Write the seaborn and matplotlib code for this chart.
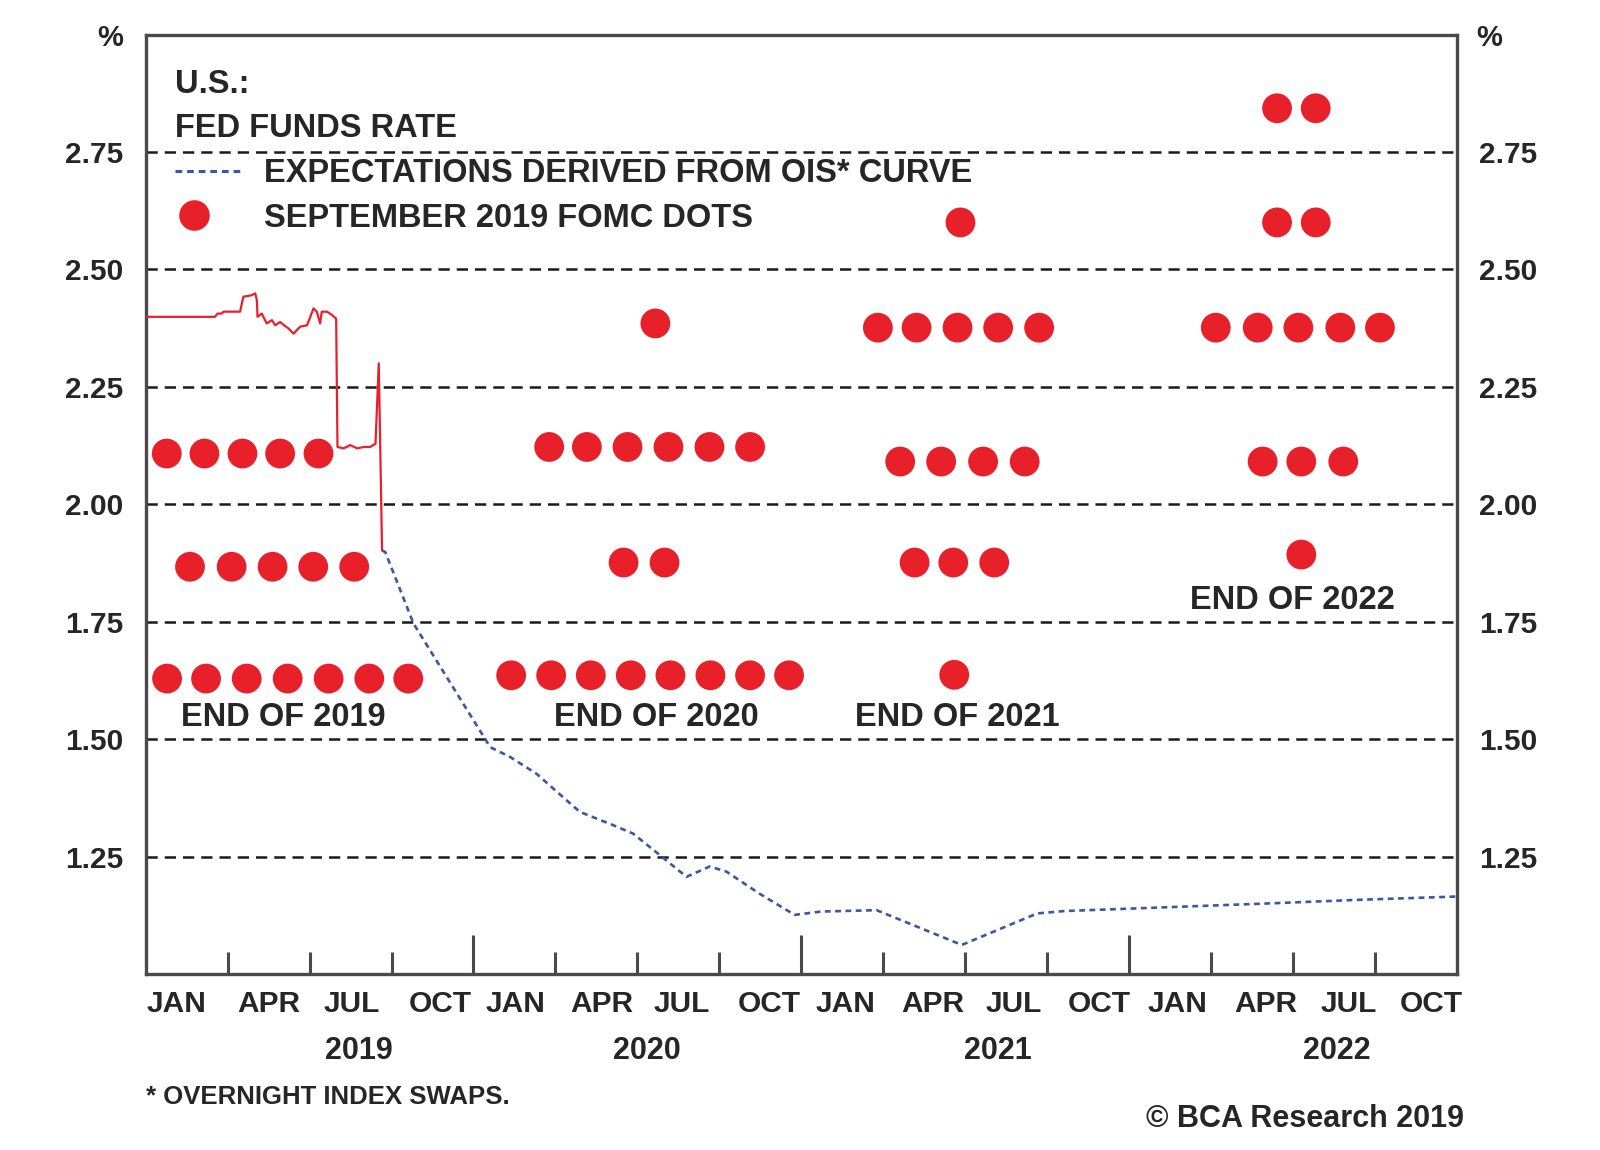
import numpy as np
import pandas as pd
import matplotlib.pyplot as plt
import seaborn as sns
from matplotlib.lines import Line2D
from matplotlib.legend_handler import HandlerLine2D

# effective fed funds rate, 2019 (decimal years)
ff_date = [2019.000, 2019.211, 2019.219, 2019.232, 2019.237, 2019.288, 2019.293, 2019.298,
           2019.308, 2019.323, 2019.334, 2019.339, 2019.341, 2019.354, 2019.369, 2019.385,
           2019.395, 2019.410, 2019.422, 2019.436, 2019.451, 2019.461, 2019.471, 2019.492,
           2019.502, 2019.512, 2019.522, 2019.532, 2019.537, 2019.553, 2019.568, 2019.581,
           2019.585, 2019.604, 2019.624, 2019.645, 2019.665, 2019.685, 2019.701, 2019.711,
           2019.721]
ff_rate = [2.399, 2.399, 2.406, 2.406, 2.410, 2.410, 2.427, 2.442,
           2.443, 2.445, 2.449, 2.434, 2.399, 2.406, 2.385, 2.392,
           2.381, 2.388, 2.381, 2.374, 2.363, 2.371, 2.378, 2.381,
           2.399, 2.417, 2.410, 2.385, 2.410, 2.410, 2.403, 2.395,
           2.122, 2.119, 2.126, 2.119, 2.122, 2.122, 2.129, 2.300,
           1.902]

# expectations from the OIS curve
ois_date = [2019.721, 2019.731, 2019.817, 2020.051, 2020.112, 2020.193, 2020.284, 2020.325,
            2020.426, 2020.487, 2020.569, 2020.650, 2020.721, 2020.772, 2020.873, 2020.980,
            2021.060, 2021.230, 2021.490, 2021.720, 2021.800, 2022.070, 2022.450, 2022.700,
            2023.000]
ois_rate = [1.902, 1.898, 1.746, 1.483, 1.462, 1.426, 1.370, 1.345,
            1.317, 1.299, 1.253, 1.207, 1.229, 1.218, 1.171, 1.126,
            1.133, 1.136, 1.062, 1.129, 1.134, 1.141, 1.151, 1.158,
            1.165]

# september 2019 FOMC dots, one cluster per year-end
dots19_x = [2019.064, 2019.179, 2019.295, 2019.410, 2019.527,
            2019.135, 2019.262, 2019.387, 2019.511, 2019.636,
            2019.065, 2019.184, 2019.308, 2019.433, 2019.558, 2019.682, 2019.801]
dots19_y = [2.108] * 5 + [1.867] * 5 + [1.629] * 7

dots20_x = [2020.555,
            2020.231, 2020.346, 2020.470, 2020.595, 2020.720, 2020.844,
            2020.458, 2020.583,
            2020.115, 2020.237, 2020.358, 2020.480, 2020.601, 2020.723, 2020.844, 2020.963]
dots20_y = [2.385] + [2.122] * 6 + [1.876] * 2 + [1.636] * 8

dots21_x = [2021.486,
            2021.234, 2021.352, 2021.477, 2021.601, 2021.726,
            2021.302, 2021.427, 2021.555, 2021.682,
            2021.346, 2021.464, 2021.589,
            2021.467]
dots21_y = [2.600] + [2.376] * 5 + [2.091] * 4 + [1.876] * 3 + [1.637]

dots22_x = [2022.452, 2022.570,
            2022.452, 2022.570,
            2022.265, 2022.393, 2022.517, 2022.645, 2022.766,
            2022.408, 2022.526, 2022.654,
            2022.526]
dots22_y = [2.843] * 2 + [2.600] * 2 + [2.376] * 5 + [2.091] * 3 + [1.893]

end_labels = ["END OF 2019", "END OF 2020", "END OF 2021", "END OF 2022"]
end_x = [2019.42, 2020.558, 2021.477, 2022.498]
end_y = [1.546, 1.546, 1.546, 1.796]

years = [2019, 2020, 2021, 2022]
months = ["JAN", "APR", "JUL", "OCT"] * 4
# where each month label sits, in quarters from Jan 2019
month_q = [0.37, 1.50, 2.51, 3.59, 4.51, 5.57, 6.54, 7.61,
           8.54, 9.60, 10.60, 11.64, 12.59, 13.67, 14.68, 15.69]
year_label_x = [2019.65, 2020.53, 2021.60, 2022.635]
y_ticks = [1.25, 1.50, 1.75, 2.00, 2.25, 2.50, 2.75]

RED = "#e8202a"
BLUE = "#3a57a4"
FRAME = "#4a4a4a"


class LeftDot(HandlerLine2D):
    # put the legend dot toward the left of the handle box
    def create_artists(self, legend, orig_handle, xdescent, ydescent, width,
                       height, fontsize, trans):
        arts = super().create_artists(legend, orig_handle, xdescent, ydescent,
                                      width, height, fontsize, trans)
        for a in arts:
            a.set_xdata(np.asarray(a.get_xdata()) - width * 0.22)
        return arts


sns.set_style("white")
plt.rcParams["font.family"] = ["Liberation Sans", "DejaVu Sans"]
plt.rcParams["font.weight"] = "bold"

fig = plt.figure(figsize=(16, 11.5), dpi=100)
ax = fig.add_axes([0.0911, 0.153, 0.8193, 0.817])

dots = pd.DataFrame({
    "x": dots19_x + dots20_x + dots21_x + dots22_x,
    "y": dots19_y + dots20_y + dots21_y + dots22_y,
})
ff = pd.DataFrame({"x": ff_date, "y": ff_rate})
ois = pd.DataFrame({"x": ois_date, "y": ois_rate})

sns.lineplot(data=ff, x="x", y="y", ax=ax, estimator=None, sort=False,
             color=RED, lw=1.6, zorder=4)
sns.lineplot(data=ois, x="x", y="y", ax=ax, estimator=None, sort=False,
             color=BLUE, lw=1.9, linestyle=(0, (2.2, 1.7)), zorder=4)
sns.scatterplot(data=dots, x="x", y="y", ax=ax, s=460, color=RED,
                edgecolor="none", linewidth=0, zorder=3)

ax.set_xlim(2019, 2023)
ax.set_ylim(1.0, 3.0)
ax.set_xlabel("")
ax.set_ylabel("")

# gridlines
ax.set_yticks(y_ticks)
ax.set_yticklabels([f"{v:.2f}" for v in y_ticks])
ax.grid(axis="y", color="#1a1a1a", lw=1.8, linestyle=(0, (4.5, 2.8)))
ax.grid(axis="x", visible=False)
ax.tick_params(axis="y", length=0, pad=16, labelsize=21.5,
               labelleft=True, labelright=True)

# quarter ticks inside, taller at year boundaries
ax.set_xticks([2020, 2021, 2022])
ax.set_xticks([y + q * 0.25 for y in years for q in (1, 2, 3)], minor=True)
ax.tick_params(axis="x", which="major", direction="in", length=28, width=2.2,
               color=FRAME, labelbottom=False, bottom=True)
ax.tick_params(axis="x", which="minor", direction="in", length=16, width=2.2,
               color=FRAME, bottom=True)

for sp in ax.spines.values():
    sp.set_color(FRAME)
    sp.set_linewidth(2.4)

xt = ax.get_xaxis_transform()
for m, q in zip(months, month_q):
    ax.text(2019 + q * 0.25, -0.032, m, transform=xt,
            ha="center", va="center", fontsize=21.5, fontweight="bold")
for y, lx in zip(years, year_label_x):
    ax.text(lx, -0.082, str(y), transform=xt, ha="center", va="center",
            fontsize=22, fontweight="bold")

for lab, lx, ly in zip(end_labels, end_x, end_y):
    ax.text(lx, ly, lab, ha="center", va="center", fontsize=23.5,
            fontweight="bold", zorder=5)

# legend
ois_handle = Line2D([], [], color=BLUE, lw=2.2, linestyle=(0, (2.2, 1.6)))
dot_handle = Line2D([], [], color=RED, marker="o", markersize=21, linestyle="none")
leg = ax.legend([ois_handle, dot_handle],
                ["EXPECTATIONS DERIVED FROM OIS* CURVE", "SEPTEMBER 2019 FOMC DOTS"],
                handler_map={dot_handle: LeftDot(numpoints=1)},
                loc="upper left", bbox_to_anchor=(0.022, 0.963), frameon=False,
                title="U.S.:\nFED FUNDS RATE", alignment="left",
                prop={"size": 23.5, "weight": "bold"},
                title_fontproperties={"size": 23.5, "weight": "bold"},
                handlelength=2.1, handletextpad=0.65, labelspacing=0.42,
                borderpad=0, borderaxespad=0)
leg.get_title().set_linespacing(1.55)

fig.text(0.069, 0.967, "%", ha="center", va="center", fontsize=21, fontweight="bold")
fig.text(0.931, 0.967, "%", ha="center", va="center", fontsize=21, fontweight="bold")
fig.text(0.091, 0.0465, "* OVERNIGHT INDEX SWAPS.", ha="left", va="center",
         fontsize=18.5, fontweight="bold")
fig.text(0.915, 0.027, "\u00a9 BCA Research 2019", ha="right", va="center",
         fontsize=22, fontweight="bold")

fig.savefig("out.png", dpi=100)
